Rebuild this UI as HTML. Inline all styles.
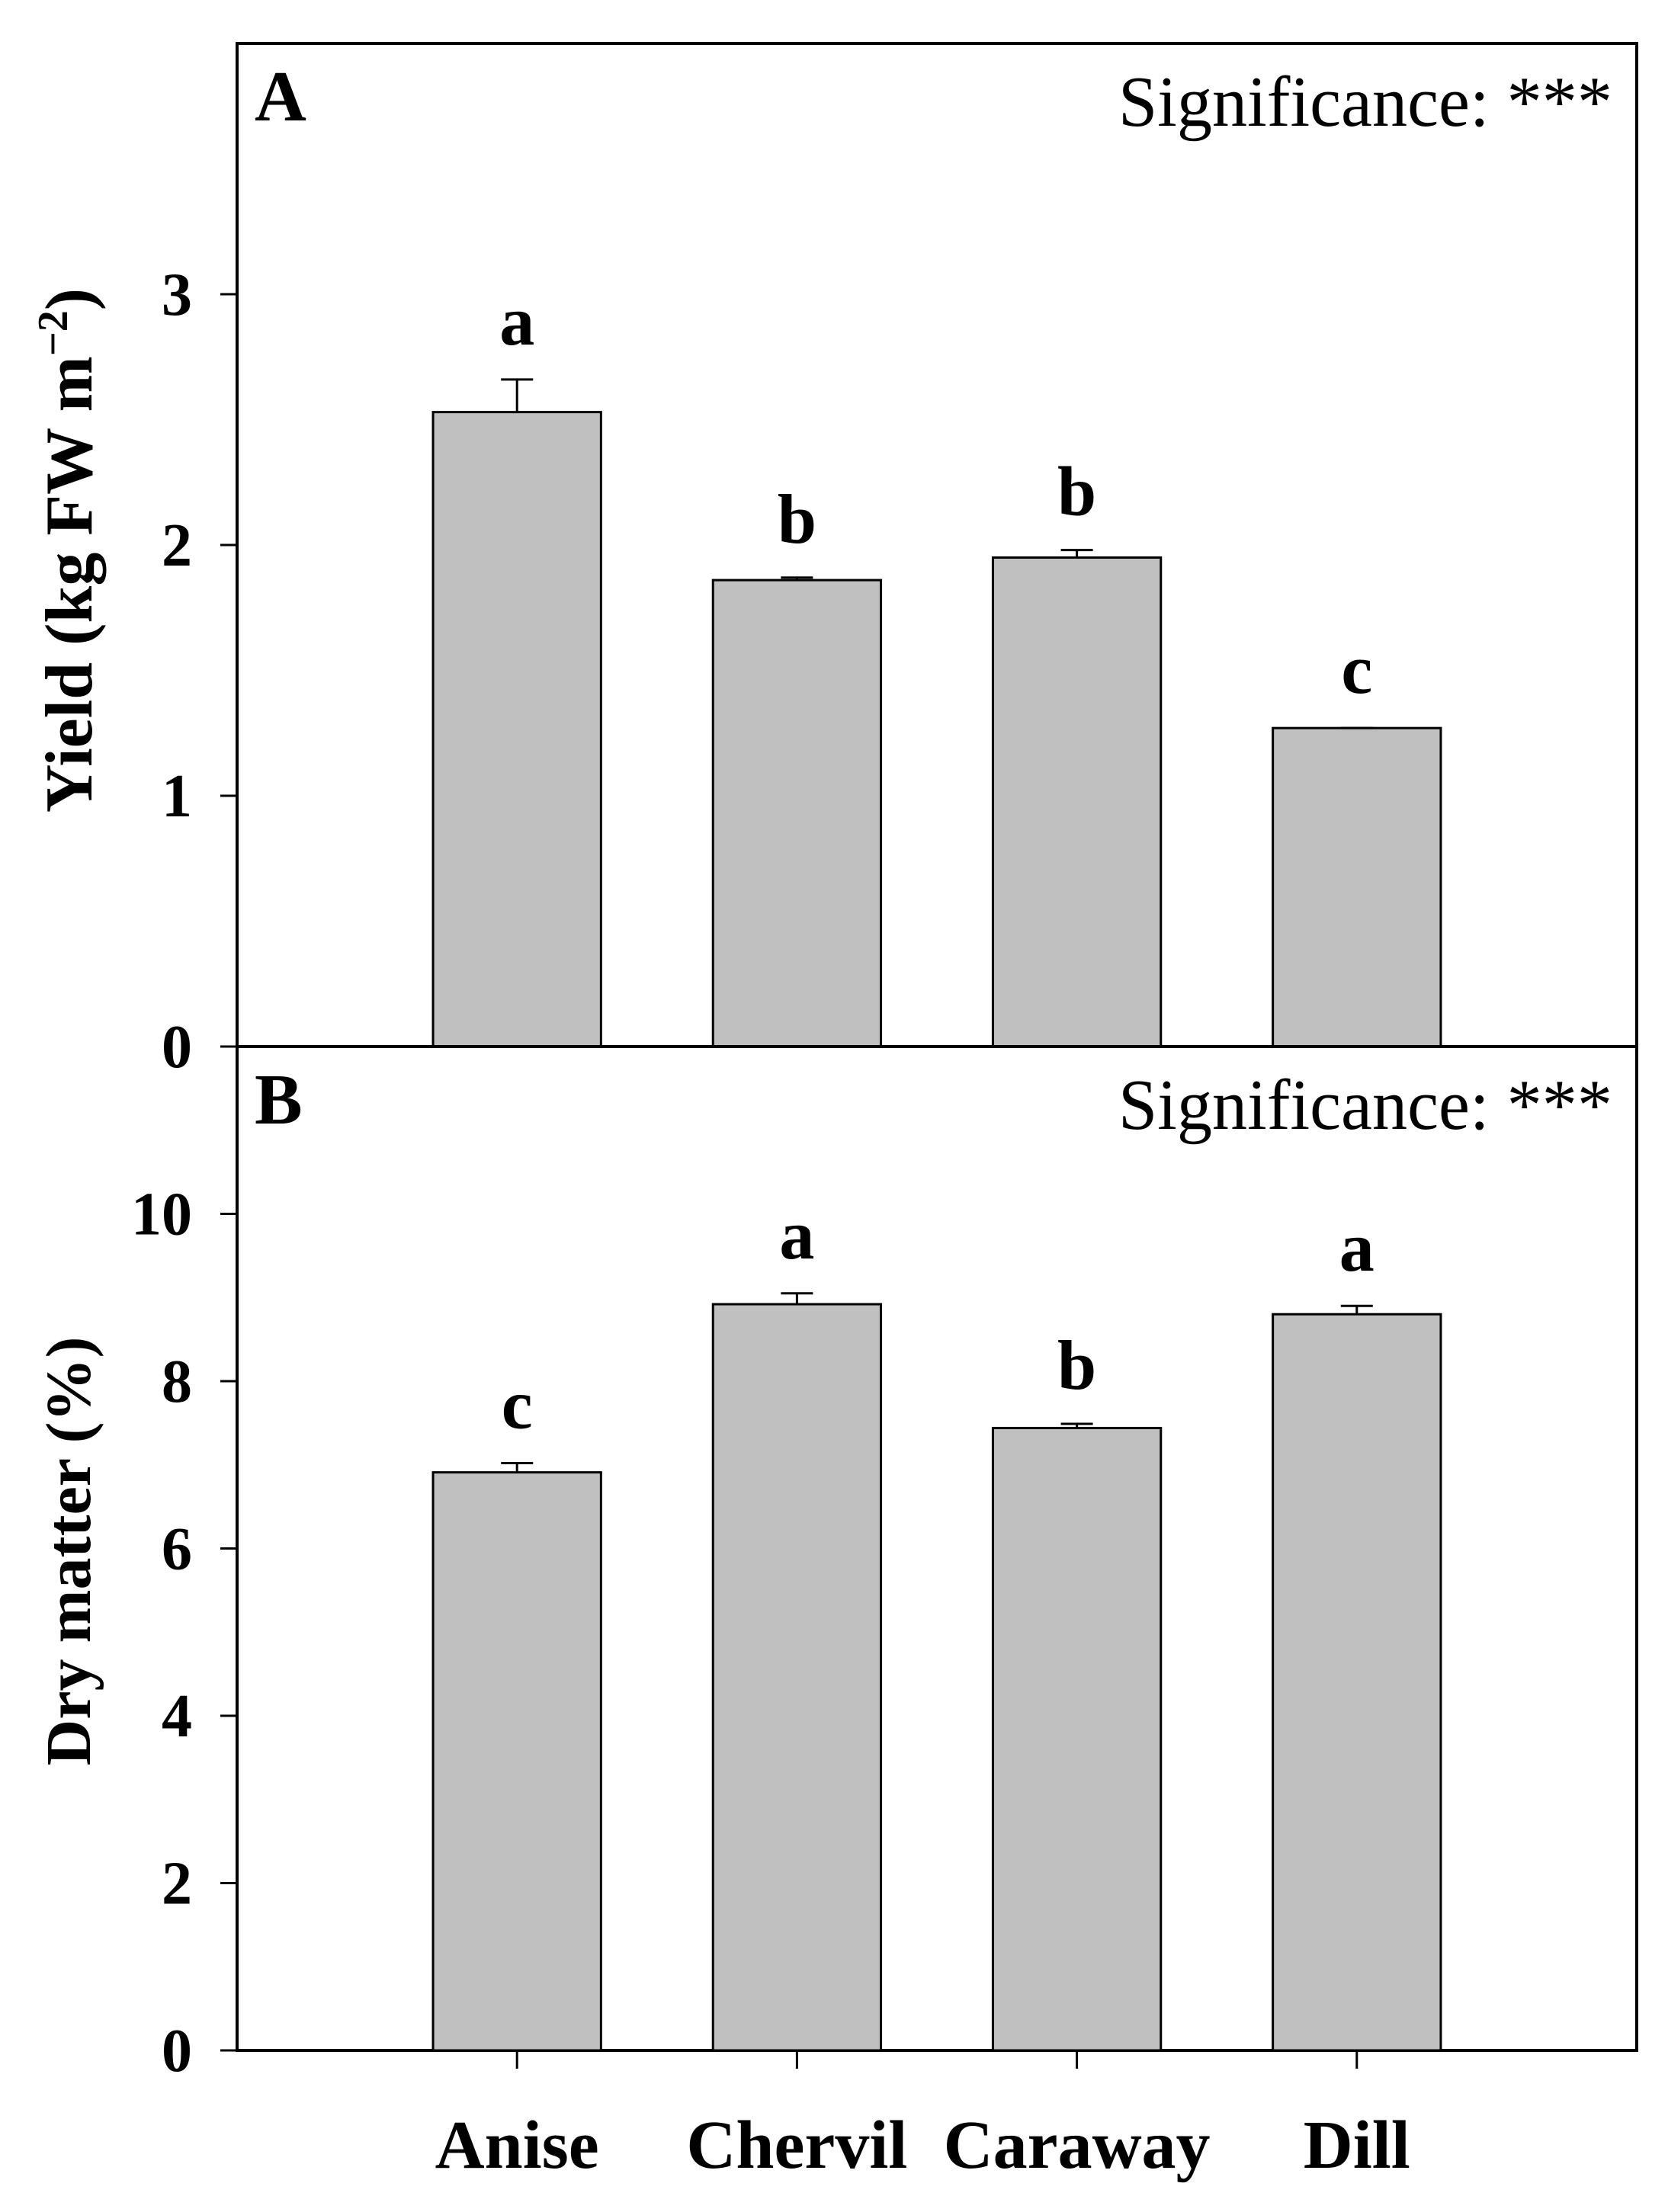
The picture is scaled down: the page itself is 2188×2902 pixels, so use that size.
<!DOCTYPE html>
<html><head><meta charset="utf-8"><style>
html,body{margin:0;padding:0;background:#fff;}
svg{display:block;}
text{font-family:"Liberation Serif",serif;fill:#000;}
</style></head><body>
<svg id="chart" width="2188" height="2902" viewBox="0 0 2188 2902" xmlns="http://www.w3.org/2000/svg"></svg>
<script>
const categories = ["Anise", "Chervil", "Caraway", "Dill"];
const yieldValues = [2.53, 1.86, 1.95, 1.27];
const yieldErrors = [0.13, 0.01, 0.03, 0.0];
const yieldLetters = ["a", "b", "b", "c"];
const yieldTicks = [0, 1, 2, 3];
const dryValues = [6.91, 8.92, 7.44, 8.80];
const dryErrors = [0.11, 0.13, 0.05, 0.10];
const dryLetters = ["c", "a", "b", "a"];
const dryTicks = [0, 2, 4, 6, 8, 10];

const NS = "http://www.w3.org/2000/svg";
const svg = document.getElementById("chart");
const L = 311, R = 2147;
function el(tag, attrs, parent) {
  const e = document.createElementNS(NS, tag);
  for (const k in attrs) e.setAttribute(k, attrs[k]);
  (parent || svg).appendChild(e);
  return e;
}
function xPos(i) { return L + (R - L) * (i + 1) / 5; }
const barW = (R - L) * 0.6 / 5;

function panel(cfg) {
  const g = el("g", {});
  
  
  const y = v => cfg.bottom - (v - 0) / cfg.max * (cfg.bottom - cfg.top);
  const f = el("rect", {x: L, y: cfg.top, width: R - L, height: cfg.bottom - cfg.top, fill: "none", stroke: "#000", "stroke-width": 4}, g);
  
  
  cfg.ticks.forEach(t => {
    const ln = el("line", {x1: L - 22, x2: L, y1: y(t), y2: y(t), stroke: "#000", "stroke-width": 3}, g);
    
    
    const tx = el("text", {x: 252, y: y(t) + 27, "text-anchor": "end", "font-size": 80, "font-weight": "bold"}, g);
    tx.textContent = t;
    
    
  });
  cfg.values.forEach((v, i) => {
    const cx = xPos(i);
    const b = el("rect", {x: cx - barW / 2, y: y(v), width: barW, height: cfg.bottom - y(v), fill: "#c0c0c0", stroke: "#000", "stroke-width": 3}, g);
    
    
    const te = y(v + cfg.errors[i]);
    if (cfg.errors[i] > 0) {
      const e1 = el("line", {x1: cx, x2: cx, y1: y(v), y2: te, stroke: "#000", "stroke-width": 3}, g);
      
      
    }
    const e2 = el("line", {x1: cx - 21, x2: cx + 21, y1: te, y2: te, stroke: "#000", "stroke-width": 3}, g);
    
    
    const lt = el("text", {x: cx, y: te - 46, "text-anchor": "middle", "font-size": 92, "font-weight": "bold"}, g);
    lt.textContent = cfg.letters[i];
    
    
  });
  const pl = el("text", {x: 334, y: cfg.top + 101, "font-size": 94, "font-weight": "bold"}, g);
  pl.textContent = cfg.label;
  
  
  const sg = el("text", {x: 1467, y: cfg.top + 108, "font-size": 94, textLength: 648, lengthAdjust: "spacingAndGlyphs"}, g);
  sg.textContent = "Significance: ***";
  
  
  const yt = el("text", {x: 0, y: 0, "text-anchor": "middle", "font-size": cfg.titleSize, "font-weight": "bold", transform: "translate(" + cfg.titleX + "," + cfg.titleY + ") rotate(-90)"}, g);
  yt.innerHTML = cfg.title;
  
  
  return y;
}

panel({name: "panel-a", top: 57, bottom: 1373, max: 4, ticks: yieldTicks, values: yieldValues, errors: yieldErrors, letters: yieldLetters, label: "A",
  title: 'Yield (kg FW m<tspan dy="-32" font-size="56">−2</tspan><tspan dy="32">)</tspan>', titleX: 120, titleY: 722, titleSize: 88});
panel({name: "panel-b", top: 1373, bottom: 2690, max: 12, ticks: dryTicks, values: dryValues, errors: dryErrors, letters: dryLetters, label: "B",
  title: 'Dry matter (%)', titleX: 118, titleY: 2035, titleSize: 84});

categories.forEach((c, i) => {
  const cx = xPos(i);
  const tk = el("line", {x1: cx, x2: cx, y1: 2690, y2: 2714, stroke: "#000", "stroke-width": 3});
  
  
  const t = el("text", {x: cx, y: 2844, "text-anchor": "middle", "font-size": 90, "font-weight": "bold"});
  t.textContent = c;
  
  
});
</script>
</body></html>
